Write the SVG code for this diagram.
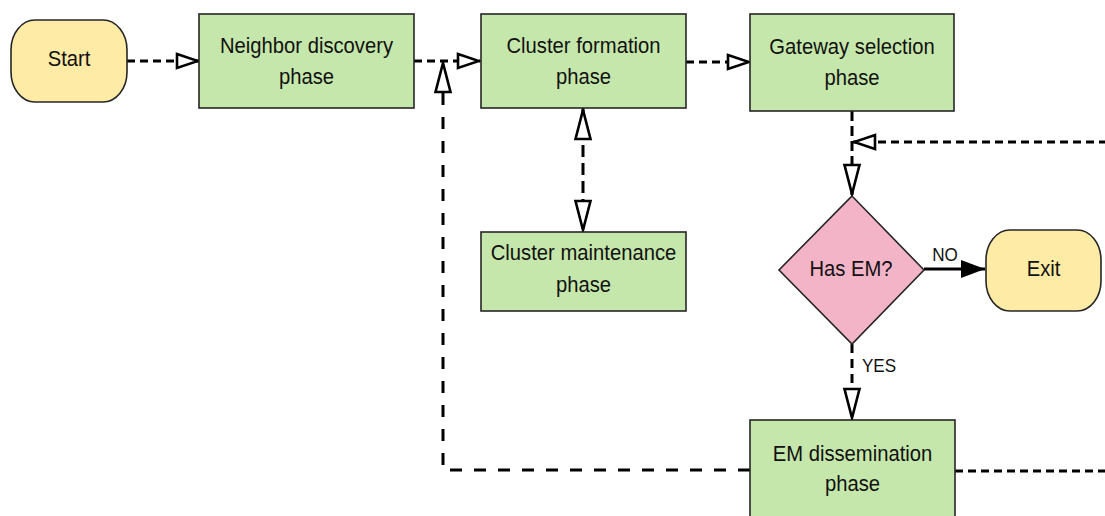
<svg xmlns="http://www.w3.org/2000/svg" width="1105" height="516" viewBox="0 0 1105 516">
<style>
.box{fill:#C6E7AB;stroke:#262626;stroke-width:1.6}
.term{fill:#FEEBA5;stroke:#262626;stroke-width:1.6}
.dec{fill:#F3B4C7;stroke:#262626;stroke-width:1.6}
.lbl{font-family:"Liberation Sans",Arial,sans-serif;font-size:22px;fill:#111;text-anchor:middle}
.small{font-family:"Liberation Sans",Arial,sans-serif;font-size:19px;fill:#111;text-anchor:middle}
.conn{fill:none;stroke:#000;stroke-width:3}
</style>
<defs>
<marker id="openH" markerUnits="userSpaceOnUse" markerWidth="26" markerHeight="19" viewBox="0 0 26 19" refX="24" refY="9.5" orient="auto-start-reverse">
<path d="M2,2.5 L23,9.5 L2,16.5 Z" fill="#fff" stroke="#000" stroke-width="2.6" stroke-dasharray="none"/>
</marker>
<marker id="openV" markerUnits="userSpaceOnUse" markerWidth="34" markerHeight="20" viewBox="0 0 34 20" refX="32" refY="10" orient="auto-start-reverse">
<path d="M2,2.5 L31,10 L2,17.5 Z" fill="#fff" stroke="#000" stroke-width="2.6" stroke-dasharray="none"/>
</marker>
<marker id="solid" markerUnits="userSpaceOnUse" markerWidth="25" markerHeight="20" viewBox="0 0 25 20" refX="24" refY="10" orient="auto">
<path d="M0,1 L24,10 L0,19 Z" fill="#000" stroke="none"/>
</marker>
</defs>

<g id="connectors">
<path id="c-start-nd" class="conn" d="M127,61 L199,61" stroke-dasharray="8,5" marker-end="url(#openH)"/>
<path id="c-nd-cf" class="conn" d="M414,61 L480,61" stroke-dasharray="8,5" marker-end="url(#openH)"/>
<path id="c-em-cf" class="conn" d="M750,470 L443,470 L443,62" stroke-dasharray="12,12" marker-end="url(#openV)"/>
<path id="c-cf-gs" class="conn" d="M686,62 L750,62" stroke-dasharray="8,5" marker-end="url(#openH)"/>
<path id="c-cf-cm" class="conn" d="M583,109 L583,231" stroke-dasharray="12,6" marker-start="url(#openV)" marker-end="url(#openV)"/>
<path id="c-gs-dec" class="conn" d="M852,111 L852,195" stroke-dasharray="10,5" marker-end="url(#openV)"/>
<path id="c-em-loop" class="conn" d="M955,471 L1120,471 L1120,142 L853,142" stroke-dasharray="8,5" marker-end="url(#openH)"/>
<path id="c-dec-exit" class="conn" d="M924,269 L985,269" marker-end="url(#solid)"/>
<path id="c-dec-em" class="conn" d="M852,344 L852,419" stroke-dasharray="9,6" marker-end="url(#openV)"/>
<g transform="translate(945,261) scale(0.9,1)"><text class="small" x="0" y="0">NO</text></g>
<g transform="translate(879,372) scale(0.9,1)"><text class="small" x="0" y="0">YES</text></g>
</g>

<g id="start">
<rect class="term" x="11" y="20" width="116" height="82" rx="24" ry="30"/>
<g transform="translate(69,66) scale(0.92,1)"><text class="lbl" x="0" y="0">Start</text></g>
</g>

<g id="neighbor-discovery">
<rect class="box" x="199" y="14" width="215" height="94"/>
<g transform="translate(306.5,0) scale(0.92,1)"><text class="lbl" x="0" y="53">Neighbor discovery</text><text class="lbl" x="0" y="84">phase</text></g>
</g>

<g id="cluster-formation">
<rect class="box" x="481" y="14" width="205" height="94"/>
<g transform="translate(583.5,0) scale(0.92,1)"><text class="lbl" x="0" y="53">Cluster formation</text><text class="lbl" x="0" y="84">phase</text></g>
</g>

<g id="gateway-selection">
<rect class="box" x="750" y="14" width="204" height="97"/>
<g transform="translate(852,0) scale(0.92,1)"><text class="lbl" x="0" y="54">Gateway selection</text><text class="lbl" x="0" y="85">phase</text></g>
</g>

<g id="cluster-maintenance">
<rect class="box" x="481" y="232" width="205" height="79"/>
<g transform="translate(583.5,0) scale(0.92,1)"><text class="lbl" x="0" y="260">Cluster maintenance</text><text class="lbl" x="0" y="292">phase</text></g>
</g>

<g id="has-em">
<polygon class="dec" points="852,196 924,270 852,344 779,270"/>
<g transform="translate(851,276) scale(0.92,1)"><text class="lbl" x="0" y="0">Has EM?</text></g>
</g>

<g id="exit">
<rect class="term" x="986" y="230" width="115" height="81" rx="24" ry="30"/>
<g transform="translate(1043.5,276) scale(0.92,1)"><text class="lbl" x="0" y="0">Exit</text></g>
</g>

<g id="em-dissemination">
<rect class="box" x="750" y="420" width="205" height="110"/>
<g transform="translate(852.5,0) scale(0.92,1)"><text class="lbl" x="0" y="461">EM dissemination</text><text class="lbl" x="0" y="491">phase</text></g>
</g>
</svg>
